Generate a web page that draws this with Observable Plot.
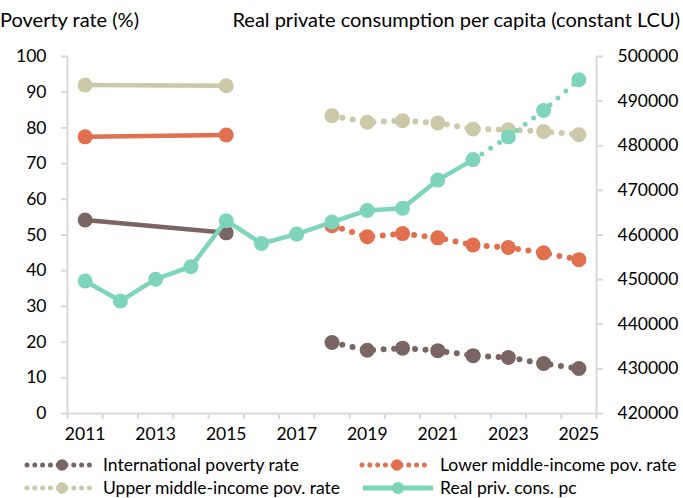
<!DOCTYPE html>
<html><head><meta charset="utf-8">
<script src="https://cdn.jsdelivr.net/npm/d3@7"></script>
<script src="https://cdn.jsdelivr.net/npm/@observablehq/plot@0.6"></script>
<style>
body{margin:0;background:#fff;font-family:Lato,sans-serif;color:#000;}
#wrap{position:relative;width:683px;height:498px;overflow:hidden;background:#fff;}
.t{position:absolute;top:8px;font-size:20px;line-height:22px;white-space:nowrap;}
.lg{position:absolute;height:20px;}
.lt{position:absolute;font-size:17.5px;line-height:20px;white-space:nowrap;}
</style></head><body>
<div id="wrap">
  <div class="t" style="left:0">Poverty rate (%)</div>
  <div class="t" style="right:3px">Real private consumption per capita (constant LCU)</div>
  <div id="chart" style="position:absolute;top:40px;left:0"></div>
  <div id="legend"></div>
</div>
<script>
// ---- data ----
const years = [2011,2012,2013,2014,2015,2016,2017,2018,2019,2020,2021,2022,2023,2024,2025];
const intlPov  = [54.2,null,null,null,50.6,null,null,19.9,17.7,18.3,17.6,16.2,15.7,14.0,12.6];
const lowerPov = [77.5,null,null,null,78.0,null,null,52.6,49.5,50.4,49.2,47.2,46.5,45.0,43.1];
const upperPov = [92.0,null,null,null,91.8,null,null,83.4,81.6,82.0,81.4,79.7,79.5,79.0,78.1];
const privCons = [449700,445200,450100,452900,463200,458100,460200,462900,465500,466000,472300,476900,482000,487900,494800];
const povSolidEnd = 2015;   // survey years drawn with a solid line
const consSolidEnd = 2022;  // projections afterwards (dotted)
const leftTicks = [0,10,20,30,40,50,60,70,80,90,100];
const rightTicks = [420000,430000,440000,450000,460000,470000,480000,490000,500000];
const labelYears = [2011,2013,2015,2017,2019,2021,2023,2025];
const seriesNames = ["International poverty rate","Lower middle-income pov. rate","Upper middle-income pov. rate","Real priv. cons. pc"];
const colors = ["#7b6562","#e1704e","#ccc9a8","#7fd4bc"];

// ---- helpers ----
const consMin = rightTicks[0], consMax = rightTicks[rightTicks.length-1];
const toLeft = v => (v - consMin) / (consMax - consMin) * 100;
const xDomain = [years[0]-0.5, years[years.length-1]+0.5];
const boundaries = years.map(y => y-0.5).concat([years[years.length-1]+0.5]);
const rows = arr => years.map((y,i)=>({year:y, v:arr[i]})).filter(d => d.v != null);
const axisGray = "#d9d9d9";

function povMarks(arr, color){
  const r = rows(arr);
  return [
    Plot.line(r.filter(d=>d.year<=povSolidEnd), {x:"year", y:"v", stroke:color, strokeWidth:4.5}),
    Plot.line(r.filter(d=>d.year>povSolidEnd), {x:"year", y:"v", stroke:color, strokeWidth:6, strokeLinecap:"round", strokeDasharray:"0 10.5"}),
    Plot.dot(r, {x:"year", y:"v", r:7.5, fill:color, stroke:null})
  ];
}
const cons = rows(privCons).map(d=>({year:d.year, v:toLeft(d.v)}));

const chart = Plot.plot({
  width: 683, height: 410,
  marginLeft: 67, marginRight: 87, marginTop: 16, marginBottom: 37,
  x: {domain: xDomain},
  y: {domain: [0,100]},
  style: {fontFamily: "Lato, sans-serif", fontSize: "17.5px", background: "transparent", color:"#000", overflow:"visible"},
  marks: [
    Plot.axisY(leftTicks, {anchor:"left", tickSize:6, tickPadding:15, stroke:axisGray, strokeWidth:2, fill:"#000", fontSize:17.5, label:null}),
    Plot.axisY(rightTicks.map(toLeft), {anchor:"right", tickSize:6, tickPadding:15, stroke:axisGray, strokeWidth:2, fill:"#000", fontSize:17.5, label:null,
      tickFormat: d => String(Math.round(consMin + d/100*(consMax-consMin)))}),
    Plot.axisX(boundaries, {tickSize:6, stroke:axisGray, strokeWidth:2, tickFormat: () => "", label:null}),
    Plot.axisX(labelYears, {tickSize:0, tickPadding:14, fill:"#000", fontSize:17.5, tickFormat: d => String(d), label:null}),
    Plot.ruleX(xDomain, {y1:0, y2:100, stroke:axisGray, strokeWidth:2}),
    Plot.ruleY([0], {stroke:axisGray, strokeWidth:2}),
    ...povMarks(intlPov, colors[0]),
    ...povMarks(lowerPov, colors[1]),
    ...povMarks(upperPov, colors[2]),
    Plot.line(cons.filter(d=>d.year<=consSolidEnd), {x:"year", y:"v", stroke:colors[3], strokeWidth:4.5}),
    Plot.line(cons.filter(d=>d.year>=consSolidEnd), {x:"year", y:"v", stroke:colors[3], strokeWidth:5, strokeLinecap:"round", strokeDasharray:"0 10.5"}),
    Plot.dot(cons, {x:"year", y:"v", r:7.5, fill:colors[3], stroke:null})
  ]
});
document.getElementById("chart").appendChild(chart);

// ---- legend ----
const lg = document.getElementById("legend");
const pos = [[20,103,455],[355,440,455],[20,103,478],[355,440,478]];
seriesNames.forEach((name,i)=>{
  const [sx, tx, top] = pos[i];
  const c = colors[i];
  const sym = i<3
    ? `<line x1="7" x2="70" y1="10" y2="10" stroke="${c}" stroke-width="5" stroke-linecap="round" stroke-dasharray="0 7.8"/><circle cx="42" cy="10" r="5.8" fill="${c}"/>`
    : `<line x1="8" x2="78" y1="10" y2="10" stroke="${c}" stroke-width="5"/><circle cx="43" cy="10" r="6" fill="${c}"/>`;
  lg.insertAdjacentHTML("beforeend",
    `<svg class="lg" width="85" height="20" style="left:${sx}px;top:${top}px">${sym}</svg>` +
    `<div class="lt" style="left:${tx}px;top:${top}px">${name}</div>`);
});
</script>
</body></html>
